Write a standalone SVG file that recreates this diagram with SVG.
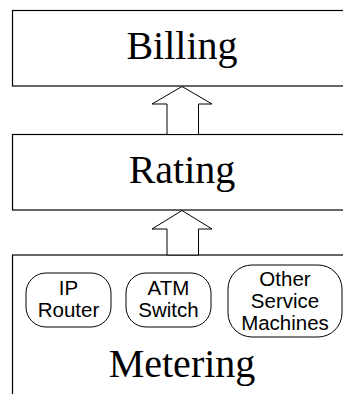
<svg xmlns="http://www.w3.org/2000/svg" width="343" height="394" viewBox="0 0 343 394">
<style>
.layer{fill:#fff;stroke:#000;stroke-width:1.2}
.big{font-family:"Liberation Serif","Times New Roman",serif;font-size:40px;text-anchor:middle;fill:#000}
.dev{fill:#fff;stroke:#000;stroke-width:1}
.small{font-family:"Liberation Sans",Arial,sans-serif;font-size:20.5px;text-anchor:middle;fill:#000}
.arrow{fill:#fff;stroke:#000;stroke-width:1}
</style>
<rect width="343" height="394" fill="#fff"/>
<g id="billing">
<rect class="layer" x="12.5" y="10.5" width="340" height="75.5"/>
<text class="big" x="182" y="59">Billing</text>
</g>
<g id="rating">
<rect class="layer" x="12.5" y="134.5" width="340" height="75.5"/>
<text class="big" x="182" y="183">Rating</text>
</g>
<g id="metering">
<rect class="layer" x="12.5" y="255" width="340" height="150"/>
<text class="big" x="182" y="377">Metering</text>
</g>
<g id="ip-router">
<rect class="dev" x="26" y="273" width="85" height="54" rx="20" ry="20"/>
<text class="small" x="68.5" y="295">IP</text>
<text class="small" x="68.5" y="317">Router</text>
</g>
<g id="atm-switch">
<rect class="dev" x="126" y="273" width="85" height="54" rx="20" ry="20"/>
<text class="small" x="168.5" y="295">ATM</text>
<text class="small" x="168.5" y="317">Switch</text>
</g>
<g id="other-machines">
<rect class="dev" x="228" y="265" width="114" height="72" rx="24" ry="24"/>
<text class="small" x="285" y="286">Other</text>
<text class="small" x="285" y="308">Service</text>
<text class="small" x="285" y="330">Machines</text>
</g>
<g id="connectors">
<polygon class="arrow" points="182,86.5 212,104 198.5,104 198.5,134.5 167,134.5 167,104 152,104"/>
<polygon class="arrow" points="182,210.5 212,229 198.5,229 198.5,255 167,255 167,229 152,229"/>
</g>
</svg>
